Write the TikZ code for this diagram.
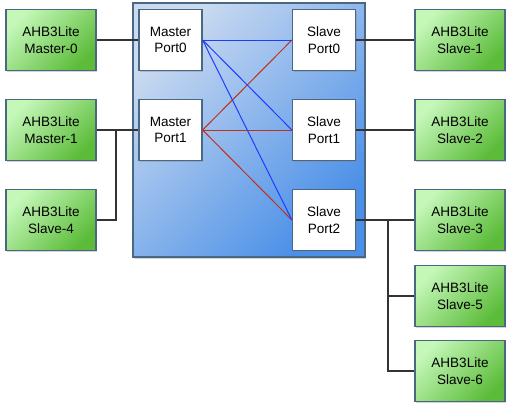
\documentclass[tikz,border=0pt]{standalone}
\usepackage{fontspec}
\setmainfont{Liberation Sans}
\usetikzlibrary{shadows}
\definecolor{glight}{HTML}{C4F7B8}
\definecolor{gdark}{HTML}{5CBC3A}
\definecolor{blight}{HTML}{CADAF0}
\definecolor{bdark}{HTML}{4A8FE8}
\definecolor{bordercol}{HTML}{4A6784}
\definecolor{wirecol}{HTML}{333333}
\definecolor{xblue}{HTML}{1E3CFF}
\definecolor{xred}{HTML}{C0301A}
\begin{document}
\begin{tikzpicture}[x=1bp,y=-1bp,
  shad/.style={drop shadow={shadow xshift=1bp,shadow yshift=-1.5bp,opacity=0.35}},
  gbox/.style={draw=bordercol,line width=1.2bp,top color=glight,bottom color=gdark,shading angle=45,
    minimum width=90bp,minimum height=61bp,inner sep=0pt,align=center,
    font=\fontsize{13.6}{16.7}\selectfont,shad},
  pbox/.style={draw=bordercol,line width=1.2bp,fill=white,
    minimum width=63bp,minimum height=61bp,inner sep=0pt,align=center,
    font=\fontsize{13.6}{16.7}\selectfont,shad},
  wire/.style={draw=wirecol,line width=1.6bp},
  xb/.style={draw=xblue,line width=1bp},
  xr/.style={draw=xred,line width=1bp}]
\useasboundingbox (0,0) rectangle (515,409);
\node[draw=bordercol,line width=1.2bp,top color=blight,bottom color=bdark,shading angle=45,
  minimum width=232bp,minimum height=254bp,inner sep=0pt,shad] (xbar) at (249,130) {};
% left
\node[gbox] (m0) at (51,40) {AHB3Lite\\Master-0};
\node[gbox] (m1) at (51,130) {AHB3Lite\\Master-1};
\node[gbox] (s4) at (51,220) {AHB3Lite\\Slave-4};
% ports
\node[pbox] (mp0) at (170.5,40) {Master\\Port0};
\node[pbox] (mp1) at (170.5,130) {Master\\Port1};
\node[pbox] (sp0) at (324,40) {Slave\\Port0};
\node[pbox] (sp1) at (324,130) {Slave\\Port1};
\node[pbox] (sp2) at (324,220) {Slave\\Port2};
% right
\node[gbox] (s1) at (460,40) {AHB3Lite\\Slave-1};
\node[gbox] (s2) at (460,130) {AHB3Lite\\Slave-2};
\node[gbox] (s3) at (460,220) {AHB3Lite\\Slave-3};
\node[gbox] (s5) at (460,296) {AHB3Lite\\Slave-5};
\node[gbox] (s6) at (460,371) {AHB3Lite\\Slave-6};
% wires
\coordinate (j1) at (116,130);
\coordinate (j2) at (388,220);
\draw[wire] (m0.east) -- (mp0.west);
\draw[wire] (m1.east) -- (mp1.west);
\draw[wire] (s4.east) -| (j1);
\draw[wire] (sp0.east) -- (s1.west);
\draw[wire] (sp1.east) -- (s2.west);
\draw[wire] (sp2.east) -- (s3.west);
\draw[wire] (j2) |- (s6.west);
\draw[wire] (j2|-s5.west) -- (s5.west);
% crossbar
\draw[xr] (mp1.east) -- (sp0.west);
\draw[xr] (mp1.east) -- (sp1.west);
\draw[xr] (mp1.east) -- (sp2.west);
\draw[xb] (mp0.east) -- (sp0.west);
\draw[xb] (mp0.east) -- (sp1.west);
\draw[xb] (mp0.east) -- (sp2.west);
\end{tikzpicture}
\end{document}
